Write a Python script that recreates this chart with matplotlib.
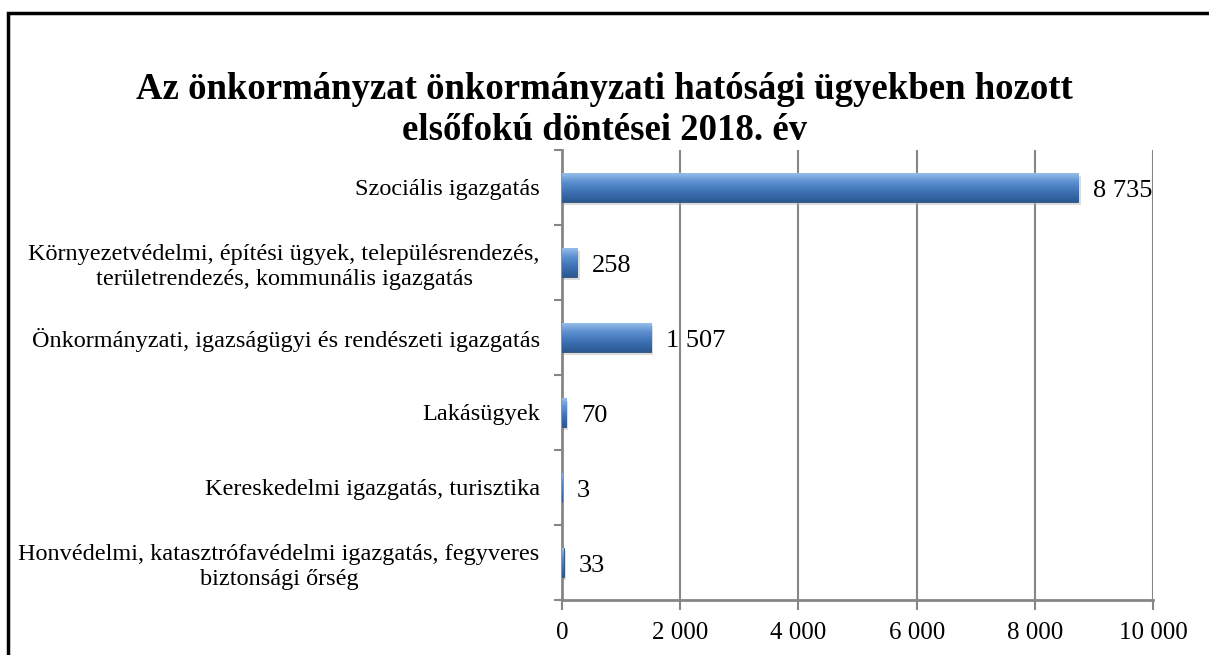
import numpy as np
import matplotlib.pyplot as plt
from matplotlib.patches import Rectangle
from matplotlib.ticker import FuncFormatter, FixedLocator

plt.rcParams['font.family'] = ['Liberation Serif', 'DejaVu Serif']

# adatok
kategoriak = [
    'Szociális igazgatás',
    'Környezetvédelmi, építési ügyek, településrendezés,\nterületrendezés, kommunális igazgatás',
    'Önkormányzati, igazságügyi és rendészeti igazgatás',
    'Lakásügyek',
    'Kereskedelmi igazgatás, turisztika',
    'Honvédelmi, katasztrófavédelmi igazgatás, fegyveres\nbiztonsági őrség',
]
ertekek = [8735, 258, 1507, 70, 3, 33]
x_tickek = [0, 2000, 4000, 6000, 8000, 10000]

cim = 'Az önkormányzat önkormányzati hatósági ügyekben hozott\nelsőfokú döntései 2018. év'


def ezres(v, pos=None):  # szóköz az ezreseknél
    return f'{int(v):,}'.replace(',', ' ')


fig = plt.figure(figsize=(12.09, 6.55), dpi=100)
ax = fig.add_axes([0.4648, 0.084, 0.489, 0.687])

y = np.arange(len(kategoriak))
bars = ax.barh(y, ertekek, height=0.39, color='#4f81bd', edgecolor='#2c4d75',
               linewidth=0.6, zorder=3)

# színátmenet a sávokra
grad = np.linspace(0, 1, 256).reshape(-1, 1)
cmap = plt.matplotlib.colors.LinearSegmentedColormap.from_list(
    'kek', ['#9dc3ec', '#5b8fd0', '#3d70b3', '#2b5891'])
for b in bars:
    x0, y0 = b.get_x(), b.get_y()
    w, h = b.get_width(), b.get_height()
    if w <= 0:
        continue
    # árnyék
    ax.add_patch(Rectangle((x0, y0 + 0.04), w + 40, h, color='#bbbbbb',
                           alpha=0.5, zorder=2, linewidth=0))
    im = ax.imshow(grad, aspect='auto', cmap=cmap, extent=(x0, x0 + w, y0 + h, y0),
                   zorder=3.5, interpolation='bicubic')
    im.set_clip_path(b)

for b, v in zip(bars, ertekek):
    ax.text(b.get_width() + 250, b.get_y() + b.get_height() / 2 + 0.05, ezres(v),
            va='center', ha='left', fontsize=19, zorder=5)

ax.set_xlim(0, 10000)
ax.set_ylim(len(kategoriak) - 0.5, -0.5)
ax.set_xticks(x_tickek)
ax.xaxis.set_major_formatter(FuncFormatter(ezres))
ax.set_yticks(y)
ax.set_yticklabels(kategoriak, fontsize=17.5, multialignment='center', linespacing=1.25)
ax.yaxis.set_minor_locator(FixedLocator(np.arange(-0.5, len(kategoriak), 1)))
ax.tick_params(axis='y', which='major', length=0, pad=16)
ax.tick_params(axis='y', which='minor', length=6, color='#868686', width=1.5)
ax.tick_params(axis='x', length=7, color='#868686', width=1.5, labelsize=18, pad=9)

ax.grid(axis='x', color='#868686', linewidth=1.5, zorder=0)
ax.set_axisbelow(True)
for s in ['top', 'right']:
    ax.spines[s].set_visible(False)
for s in ['left', 'bottom']:
    ax.spines[s].set_color('#868686')
    ax.spines[s].set_linewidth(2)

fig.text(0.5, 0.832, cim, ha='center', va='center', fontsize=26.5,
         fontweight='bold', linespacing=1.2)

# keret a diagram körül
fig.patches.append(Rectangle((8 / 1209, -0.1), 1.1, 1.1 - 13 / 655,
                             transform=fig.transFigure, fill=False,
                             edgecolor='black', linewidth=2.5))

fig.savefig('out.png', dpi=100)
